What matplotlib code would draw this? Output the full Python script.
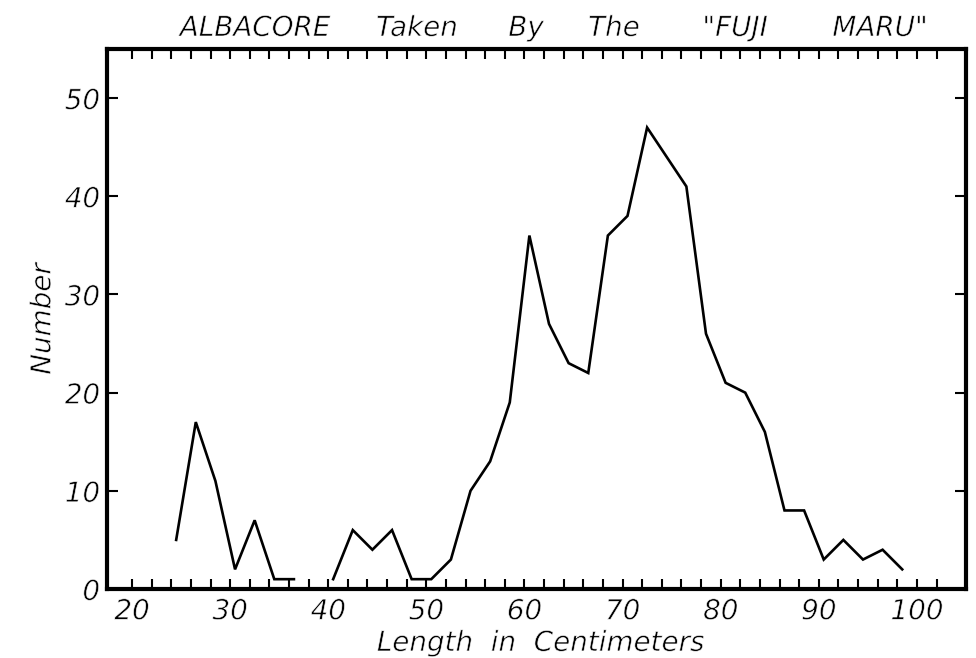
import numpy as np
import matplotlib
matplotlib.use("Agg")
import matplotlib.pyplot as plt
import matplotlib.patheffects as pe
from matplotlib.ticker import FixedLocator

# ================= DATA =================
# fork length class midpoints (cm) and number of fish per class
length_cm = [24.5, 26.5, 28.5, 30.5, 32.5, 34.5, 36.5, 38.5, 40.5, 42.5,
             44.5, 46.5, 48.5, 50.5, 52.5, 54.5, 56.5, 58.5, 60.5, 62.5,
             64.5, 66.5, 68.5, 70.5, 72.5, 74.5, 76.5, 78.5, 80.5, 82.5,
             84.5, 86.5, 88.5, 90.5, 92.5, 94.5, 96.5, 98.5]
number = [5, 17, 11, 2, 7, 1, 1, np.nan, 1, 6,
          4, 6, 1, 1, 3, 10, 13, 19, 36, 27,
          23, 22, 36, 38, 47, 44, 41, 26, 21, 20,
          16, 8, 8, 3, 5, 3, 4, 2]

x_ticks = [20, 30, 40, 50, 60, 70, 80, 90, 100]
x_minor = list(range(22, 104, 2))
y_ticks = [0, 10, 20, 30, 40, 50]

title_words = ["ALBACORE", "Taken", "By", "The", '"FUJI', 'MARU"']
title_x = [255, 417, 526, 614, 735, 880]   # word centres, pixels
xlabel = "Length  in  Centimeters"
ylabel = "Number"

# ================= STYLE =================
plt.rcParams["font.family"] = ["DejaVu Sans"]
plt.rcParams["font.style"] = "oblique"

# light white edge stroke trims the glyphs a bit -> pen-like lettering
thin = [pe.Stroke(linewidth=0.45, foreground="white")]

W, H = 976, 658
fig = plt.figure(figsize=(W / 100, H / 100), dpi=100)
ax = fig.add_axes([107 / W, 1 - 589 / H, (966 - 107) / W, (589 - 49) / H])

ax.plot(length_cm, number, color="black", lw=1.9, solid_joinstyle="miter")

ax.set_xlim(17.45, 105.0)
ax.set_ylim(0, 55)

ax.set_xticks(x_ticks)
ax.xaxis.set_minor_locator(FixedLocator([v for v in x_minor if v not in x_ticks]))
ax.set_yticks(y_ticks)

ax.tick_params(axis="x", which="both", direction="in", top=True,
               length=7, width=1.5, pad=6, labelsize=20)
ax.tick_params(axis="y", which="major", direction="in", right=True,
               length=8, width=1.5, pad=5, labelsize=20)

for s in ax.spines.values():
    s.set_linewidth(3.0)

# title words spaced out like hand lettering
for w, xp in zip(title_words, title_x):
    fig.text(xp / W, 1 - 28 / H, w, fontsize=20, ha="center", va="center",
             path_effects=thin)

ax.set_xlabel(xlabel, fontsize=20, path_effects=thin)
ax.xaxis.set_label_coords(0.505, -0.074)
ax.set_ylabel(ylabel, fontsize=20, labelpad=6, path_effects=thin)

for lab in ax.get_xticklabels() + ax.get_yticklabels():
    lab.set_path_effects(thin)

fig.savefig("out.png", dpi=100)
plt.close(fig)
